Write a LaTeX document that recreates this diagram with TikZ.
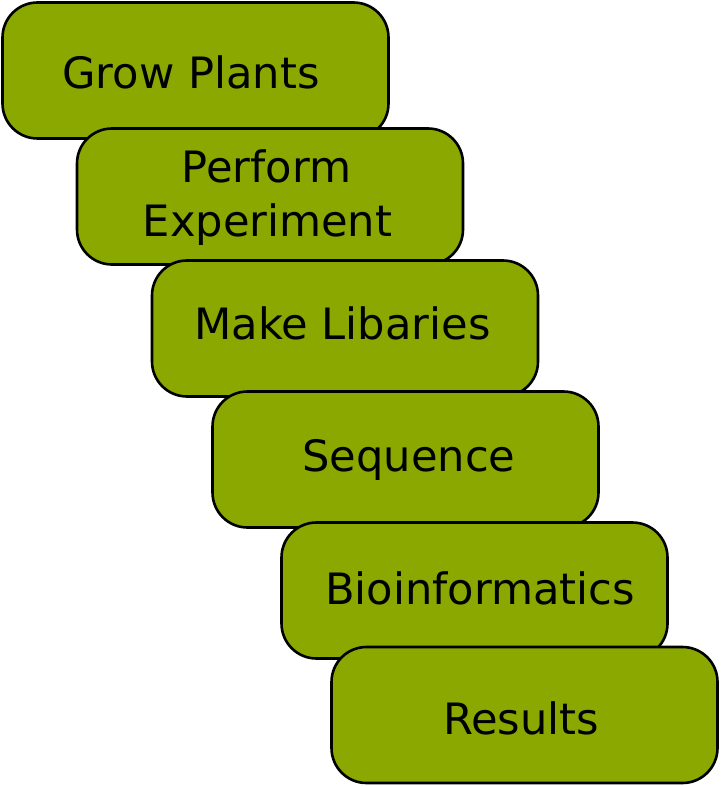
\documentclass[tikz,border=0pt]{standalone}
\usepackage{fontspec}
\setmainfont{DejaVu Sans}
\definecolor{boxgreen}{HTML}{8AA800}
\begin{document}
\begin{tikzpicture}[x=1pt,y=-1pt,
  stepbox/.style={rectangle, draw=black, line width=2.6pt, fill=boxgreen,
    rounded corners=35pt, minimum width=386pt, minimum height=136pt, inner sep=0pt},
  lbl/.style={anchor=base, font=\fontsize{43.2}{53.5}\selectfont, inner sep=0pt}]
\useasboundingbox (0,0) rectangle (720,786);
\node[stepbox] (b1) at (195.5,70.5) {};
\node[lbl] (t1) at (191,88.5) {Grow Plants};
\node[stepbox] (b2) at (270,196.5) {};
\node[lbl] (t2a) at (266.5,183) {Perform};
\node[lbl] (t2b) at (267.5,236.5) {Experiment};
\node[stepbox] (b3) at (345,328.5) {};
\node[lbl] (t3) at (342.5,339) {Make Libaries};
\node[stepbox] (b4) at (405.5,459.5) {};
\node[lbl] (t4) at (409,471) {Sequence};
\node[stepbox] (b5) at (474.5,590.5) {};
\node[lbl] (t5) at (480,604) {Bioinformatics};
\node[stepbox] (b6) at (524.5,715) {};
\node[lbl] (t6) at (521,734.5) {Results};
\end{tikzpicture}
\end{document}
